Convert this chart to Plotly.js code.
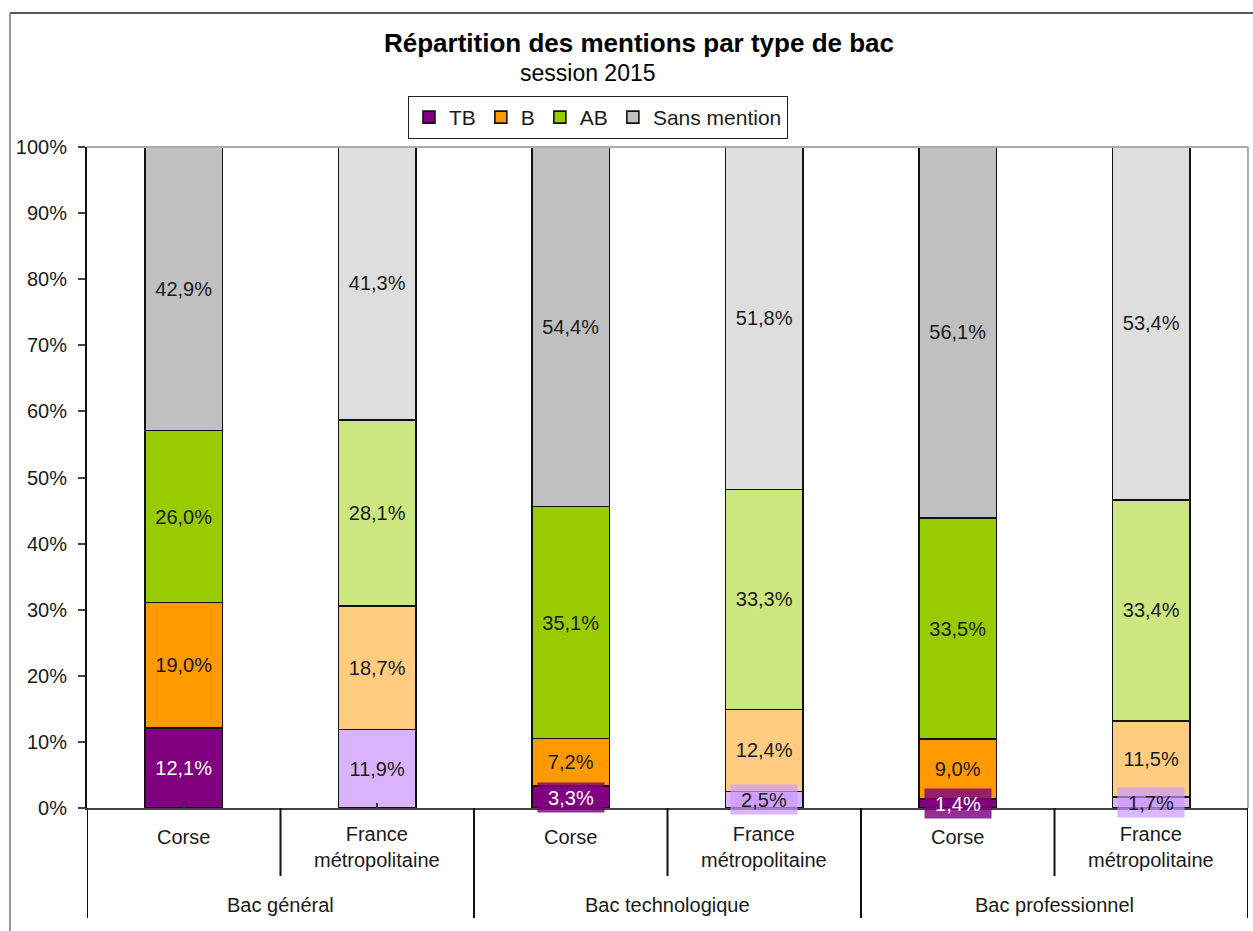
<!DOCTYPE html>
<html>
<head>
<meta charset="utf-8">
<script src="https://cdn.plot.ly/plotly-3.0.1.min.js"></script>
<style>html,body{margin:0;padding:0;background:#fff;}#chart{width:1253px;height:931px;}</style>
</head>
<body>
<div id="chart"></div>
<script>
// ---- data ----
const groups = ['Bac général', 'Bac technologique', 'Bac professionnel'];
const regions = ['Corse', 'France<br>métropolitaine'];
const mentions = ['TB', 'B', 'AB', 'Sans mention'];
// values in order: BG Corse, BG France, BT Corse, BT France, BP Corse, BP France
const tb = [12.1, 11.9, 3.3, 2.5, 1.4, 1.7];
const b = [19.0, 18.7, 7.2, 12.4, 9.0, 11.5];
const ab = [26.0, 28.1, 35.1, 33.3, 33.5, 33.4];
const sansMention = [42.9, 41.3, 54.4, 51.8, 56.1, 53.4];

// ---- styling ----
const darkColors = ['#800080', '#ff9900', '#99cc00', '#c0c0c0'];
const lightColors = ['#dab3ff', '#ffcc80', '#cce680', '#dedede'];
const FONT = 'Liberation Sans, Arial, sans-serif';
const LBL = 20;

const cats = [];
groups.forEach(g => regions.forEach(r => cats.push(g + ' | ' + r.replace('<br>', ' '))));

const series = [tb, b, ab, sansMention];
const fmt = v => v.toFixed(1).replace('.', ',') + '%';
const smallLimit = 5;

const traces = series.map((vals, k) => ({
  type: 'bar',
  name: mentions[k],
  x: cats,
  y: vals,
  marker: {
    color: vals.map((v, i) => (i % 2 === 0 ? darkColors[k] : lightColors[k])),
    line: {color: '#111', width: 1.6}
  },
  text: vals.map(fmt),
  textposition: vals.map(v => (v < smallLimit ? 'none' : 'inside')),
  insidetextanchor: 'middle',
  textangle: 0,
  textfont: {
    family: FONT, size: LBL,
    color: vals.map((v, i) => (k === 0 && i % 2 === 0 ? '#ffffff' : '#1a1a1a'))
  },
  constraintext: 'none',
  hoverinfo: 'skip'
}));

const annotations = [];
// small value labels with a coloured box
series.forEach((vals, k) => {
  vals.forEach((v, i) => {
    if (v < smallLimit) {
      const base = series.slice(0, k).reduce((s, arr) => s + arr[i], 0);
      const corse = i % 2 === 0;
      annotations.push({
        xref: 'x', yref: 'y', x: cats[i], y: base + v / 2,
        text: fmt(v), showarrow: false,
        font: {family: FONT, size: LBL, color: corse ? '#ffffff' : '#1a1a1a'},
        bgcolor: corse ? 'rgba(128,0,128,0.82)' : 'rgba(204,153,255,0.7)',
        borderpad: 2, width: 62, height: 25
      });
    }
  });
});

// category labels
const plotTop = 147, plotBottom = 808, plotH = plotBottom - plotTop;
const py = px => (plotBottom - px) / plotH;
cats.forEach((c, i) => {
  const r = regions[i % 2];
  annotations.push({
    xref: 'x', yref: 'paper', x: i, y: r.includes('<br>') ? py(847) : py(837),
    text: r, showarrow: false, yanchor: 'middle',
    font: {family: FONT, size: LBL, color: '#1a1a1a'}
  });
});
groups.forEach((g, j) => {
  annotations.push({
    xref: 'x', yref: 'paper', x: 2 * j + 0.5, y: py(905),
    text: g, showarrow: false, yanchor: 'middle',
    font: {family: FONT, size: LBL, color: '#1a1a1a'}
  });
});
// titles
const fx = px => (px - 87) / 1161;
annotations.push({
  xref: 'paper', yref: 'paper', x: fx(639), y: py(43),
  text: '<b>Répartition des mentions par type de bac</b>', showarrow: false,
  yanchor: 'middle', font: {family: FONT, size: 26, color: '#000'}
});
annotations.push({
  xref: 'paper', yref: 'paper', x: fx(588), y: py(73),
  text: 'session 2015', showarrow: false,
  yanchor: 'middle', font: {family: FONT, size: 23, color: '#000'}
});

const shapes = [];
// sub-dividers
[0.5, 2.5, 4.5].forEach(x => shapes.push({
  type: 'line', xref: 'x', yref: 'paper', x0: x, x1: x, y0: 0, y1: py(876),
  line: {color: '#111', width: 2}
}));
// group dividers
[-0.5, 1.5, 3.5, 5.5].forEach(x => shapes.push({
  type: 'line', xref: 'x', yref: 'paper', x0: x, x1: x, y0: 0, y1: py(918),
  line: {color: '#111', width: 2}
}));
// plot area top & right border
shapes.push({type: 'line', xref: 'paper', yref: 'paper', x0: 0, x1: 1, y0: 1, y1: 1, line: {color: '#aaaaaa', width: 2}});
shapes.push({type: 'line', xref: 'paper', yref: 'paper', x0: 1, x1: 1, y0: 0, y1: 1, line: {color: '#aaaaaa', width: 2}});
// outer frame
shapes.push({type: 'line', xref: 'paper', yref: 'paper', x0: fx(10), x1: fx(1260), y0: py(13), y1: py(13), line: {color: '#222', width: 1.5}});
shapes.push({type: 'line', xref: 'paper', yref: 'paper', x0: fx(10), x1: fx(10), y0: py(13), y1: py(940), line: {color: '#777', width: 1.5}});

const layout = {
  width: 1253, height: 931,
  margin: {l: 87, r: 5, t: plotTop, b: 931 - plotBottom},
  paper_bgcolor: '#fff', plot_bgcolor: '#fff',
  barmode: 'stack', bargap: 0.6,
  showlegend: true,
  legend: {
    orientation: 'h', x: fx(408), y: py(96), xanchor: 'left', yanchor: 'top',
    bordercolor: '#222', borderwidth: 1, bgcolor: '#fff',
    font: {family: FONT, size: 21, color: '#1a1a1a'},
    itemwidth: 30, traceorder: 'normal'
  },
  xaxis: {
    type: 'category', categoryarray: cats, range: [-0.5, 5.5],
    showticklabels: false, ticks: 'inside', ticklen: 5, tickcolor: '#333', tickwidth: 2,
    showline: true, linecolor: '#444', linewidth: 2, showgrid: false, zeroline: false
  },
  yaxis: {
    range: [0, 100], dtick: 10, ticksuffix: '%', ticks: 'outside', ticklen: 7,
    tickcolor: '#444', tickwidth: 2, ticklabelstandoff: 7,
    showline: true, linecolor: '#111', linewidth: 2, showgrid: false, zeroline: false,
    tickfont: {family: FONT, size: 20, color: '#1a1a1a'}
  },
  annotations: annotations,
  shapes: shapes,
  font: {family: FONT}
};

Plotly.newPlot('chart', traces, layout, {displayModeBar: false, staticPlot: true});
</script>
</body>
</html>
